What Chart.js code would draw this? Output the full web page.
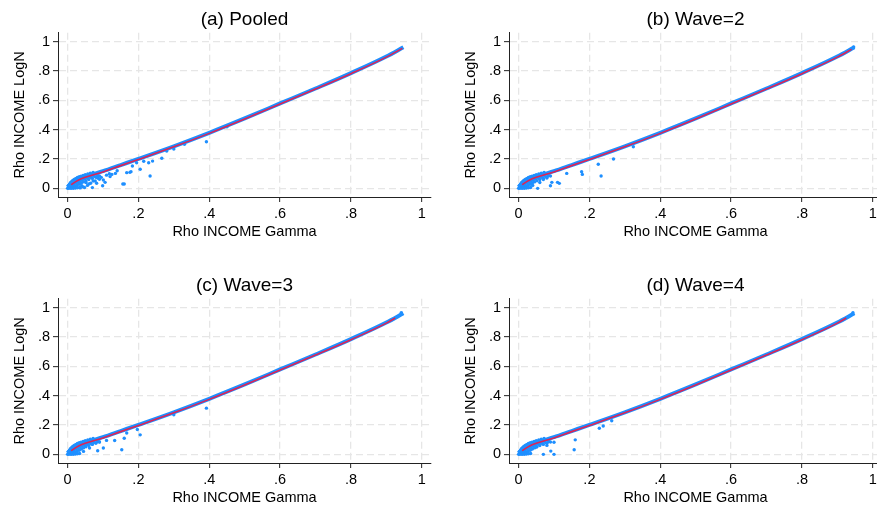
<!DOCTYPE html>
<html>
<head>
<meta charset="utf-8">
<title>Rho INCOME LogN vs Gamma</title>
<script src="https://cdn.jsdelivr.net/npm/chart.js@4.4.0/dist/chart.umd.min.js"></script>
<style>
  html, body { margin: 0; padding: 0; background: #fff; width: 877px; height: 510px; overflow: hidden; }
  .panel { position: absolute; width: 438px; height: 255px; }
</style>
</head>
<body>
<div class="panel" style="left:0;top:0"><canvas id="chartA" width="438" height="255"></canvas></div>
<div class="panel" style="left:451px;top:0"><canvas id="chartB" width="438" height="255"></canvas></div>
<div class="panel" style="left:0;top:266px"><canvas id="chartC" width="438" height="255"></canvas></div>
<div class="panel" style="left:451px;top:266px"><canvas id="chartD" width="438" height="255"></canvas></div>
<script>
// ==========================
// DATA
// ==========================
const tickVals = [0, 0.2, 0.4, 0.6, 0.8, 1];
const tickLabels = ["0", ".2", ".4", ".6", ".8", "1"];

// dense band of estimates (blue)
const bandPts = [
  [0, 0.008], [0.01, 0.032], [0.02, 0.047], [0.04, 0.068], [0.06, 0.086],
  [0.1, 0.117], [0.15, 0.159], [0.2, 0.201], [0.3, 0.287], [0.4, 0.379],
  [0.5, 0.477], [0.6, 0.579], [0.7, 0.681], [0.8, 0.786], [0.9, 0.899], [0.948, 0.962],
];

// near-origin cluster shared by all samples
const originCluster = [
  [0, 0], [0.003, 0.006], [0.006, 0.012], [0.009, 0.004], [0.012, 0.018], [0.015, 0.008],
  [0.018, 0.026], [0.021, 0.014], [0.024, 0.034], [0.027, 0.02], [0.03, 0.042], [0.033, 0.028],
  [0.036, 0.05], [0.039, 0.036], [0.042, 0.058], [0.045, 0.044], [0.048, 0.064], [0.052, 0.052],
  [0.056, 0.07], [0.06, 0.06], [0.065, 0.076], [0.07, 0.068], [0.075, 0.082], [0.08, 0.076],
  [0.085, 0.088], [0.09, 0.084], [0.002, 0.018], [0.005, 0.028], [0.008, 0.038], [0.011, 0.045],
  [0.014, 0.052], [0.017, 0.058], [0.02, 0.063], [0.024, 0.068], [0.028, 0.074], [0.033, 0.079],
  [0.038, 0.083], [0.044, 0.088], [0.05, 0.093], [0.057, 0.098], [0.064, 0.103], [0.072, 0.108],
  [0.004, 0], [0.01, 0], [0.016, 0], [0.022, 0.002], [0.028, 0.004], [0.034, 0.006],
];

// fitted lines (red)
const fitPooled = [
  [0.01, 0.025], [0.03, 0.055], [0.05, 0.075], [0.1, 0.112], [0.15, 0.155], [0.2, 0.197],
  [0.3, 0.283], [0.4, 0.375], [0.5, 0.473], [0.6, 0.575], [0.7, 0.677], [0.8, 0.782],
  [0.9, 0.895], [0.945, 0.955],
];
const fitWave2 = [
  [0.01, 0.025], [0.03, 0.055], [0.05, 0.075], [0.1, 0.112], [0.15, 0.155], [0.2, 0.197],
  [0.3, 0.283], [0.4, 0.375], [0.5, 0.473], [0.6, 0.575], [0.7, 0.677], [0.8, 0.782],
  [0.9, 0.895], [0.94, 0.948],
];
const fitWave3 = [
  [0.01, 0.025], [0.03, 0.055], [0.05, 0.075], [0.1, 0.112], [0.15, 0.155], [0.2, 0.197],
  [0.3, 0.283], [0.4, 0.375], [0.5, 0.473], [0.6, 0.575], [0.7, 0.677], [0.8, 0.782],
  [0.9, 0.895], [0.925, 0.93],
];
const fitWave4 = [
  [0.01, 0.025], [0.03, 0.055], [0.05, 0.075], [0.1, 0.112], [0.15, 0.155], [0.2, 0.197],
  [0.3, 0.283], [0.4, 0.375], [0.5, 0.473], [0.6, 0.575], [0.7, 0.677], [0.8, 0.782],
  [0.9, 0.895], [0.925, 0.93],
];

// scattered points off the band
const dotsPooled = [
  [0.036, 0.003], [0.04, 0.018], [0.044, 0.01], [0.048, 0.006], [0.052, 0.04], [0.056, 0.02],
  [0.06, 0.03], [0.065, 0.035], [0.07, 0.005], [0.072, 0.05], [0.078, 0.05], [0.085, 0.07],
  [0.09, 0.062], [0.099, 0.018], [0.101, 0.057], [0.106, 0.041], [0.11, 0.09], [0.118, 0.1],
  [0.125, 0.095], [0.135, 0.102], [0.14, 0.12], [0.156, 0.03], [0.16, 0.03], [0.167, 0.107],
  [0.176, 0.109], [0.179, 0.114], [0.183, 0.152], [0.195, 0.175], [0.205, 0.13], [0.215, 0.185],
  [0.229, 0.175], [0.233, 0.084], [0.24, 0.186], [0.266, 0.205], [0.28, 0.255], [0.3, 0.268],
  [0.33, 0.3], [0.392, 0.318], [0.45, 0.42], [0.082, 0.035], [0.095, 0.075], [0.12, 0.08],
];
const dotsWave2 = [
  [0.04, 0.02], [0.054, 0], [0.06, 0.04], [0.07, 0.06], [0.08, 0.07], [0.09, 0.018],
  [0.094, 0.041], [0.11, 0.041], [0.115, 0.034], [0.136, 0.102], [0.178, 0.114], [0.18, 0.095],
  [0.225, 0.164], [0.233, 0.084], [0.268, 0.2], [0.324, 0.284], [0.946, 0.964],
];
const dotsWave3 = [
  [0.045, 0.02], [0.062, 0.043], [0.085, 0.025], [0.101, 0.043], [0.133, 0.094], [0.153, 0.031],
  [0.16, 0.11], [0.167, 0.146], [0.197, 0.169], [0.205, 0.133], [0.392, 0.315], [0.05, 0.06],
  [0.07, 0.07], [0.09, 0.085], [0.11, 0.095], [0.3, 0.27], [0.942, 0.966],
];
const dotsWave4 = [
  [0.04, 0.06], [0.05, 0.05], [0.07, 0], [0.08, 0.061], [0.091, 0.022], [0.1, 0],
  [0.1, 0.083], [0.157, 0.031], [0.16, 0.099], [0.228, 0.178], [0.239, 0.193], [0.263, 0.229],
  [0.944, 0.966],
];

// ==========================
// STYLE
// ==========================
const FONT = "'Liberation Sans', Arial, Helvetica, sans-serif";
const BLUE = "#1e8fff";
const RED = "#dc2456";

const toXY = (pts) => pts.map((p) => ({ x: p[0], y: p[1] }));

function axisOpts(titleText, min, max, isX) {
  return {
    type: "linear",
    min,
    max,
    afterBuildTicks: (axis) => {
      axis.ticks = tickVals.map((v) => ({ value: v }));
    },
    afterFit: (axis) => {
      if (isX) axis.height = 58;
      else axis.width = 58;
    },
    ticks: {
      callback: (v, i) => tickLabels[i],
      color: "#000",
      font: { family: FONT, size: 14.5 },
      padding: 3,
      maxRotation: 0,
      autoSkip: false,
    },
    grid: {
      color: "#e6e6e6",
      lineWidth: 1.3,
      tickLength: 5,
      tickColor: "#222",
      tickWidth: 1,
    },
    border: { color: "#222", width: 1, dash: [7, 4] },
    title: {
      display: true,
      text: titleText,
      color: "#000",
      font: { family: FONT, size: 14.5 },
      padding: isX ? { top: 0, bottom: 14 } : { top: 11, bottom: 0 },
    },
  };
}

// ==========================
// PANEL RENDER
// ==========================
function drawPanel(id, titleText, fitPts, dotPts) {
  new Chart(document.getElementById(id), {
    type: "scatter",
    data: {
      datasets: [
        {
          data: toXY(fitPts),
          showLine: true,
          borderColor: RED,
          borderWidth: 1.6,
          pointRadius: 0,
          cubicInterpolationMode: "monotone",
          order: 1,
        },
        {
          data: toXY(bandPts),
          showLine: true,
          borderColor: BLUE,
          borderWidth: 4,
          pointRadius: 0,
          cubicInterpolationMode: "monotone",
          order: 2,
        },
        {
          data: toXY(originCluster.concat(dotPts)),
          pointRadius: 1.7,
          pointBackgroundColor: BLUE,
          pointBorderWidth: 0,
          order: 3,
        },
      ],
    },
    options: {
      responsive: false,
      animation: false,
      layout: { padding: { left: 0, right: 7, top: 0, bottom: 0 } },
      plugins: {
        legend: { display: false },
        tooltip: { enabled: false },
        title: {
          display: true,
          text: titleText,
          color: "#000",
          fullSize: false,
          font: { family: FONT, size: 19, weight: "normal" },
          padding: { top: 8, bottom: 2 },
        },
      },
      scales: {
        x: axisOpts("Rho INCOME Gamma", -0.027, 1.026, true),
        y: axisOpts("Rho INCOME LogN", -0.059, 1.061, false),
      },
    },
  });
}

// ==========================
// INITIAL LOAD
// ==========================
drawPanel("chartA", "(a) Pooled", fitPooled, dotsPooled);
drawPanel("chartB", "(b) Wave=2", fitWave2, dotsWave2);
drawPanel("chartC", "(c) Wave=3", fitWave3, dotsWave3);
drawPanel("chartD", "(d) Wave=4", fitWave4, dotsWave4);
</script>
</body>
</html>
